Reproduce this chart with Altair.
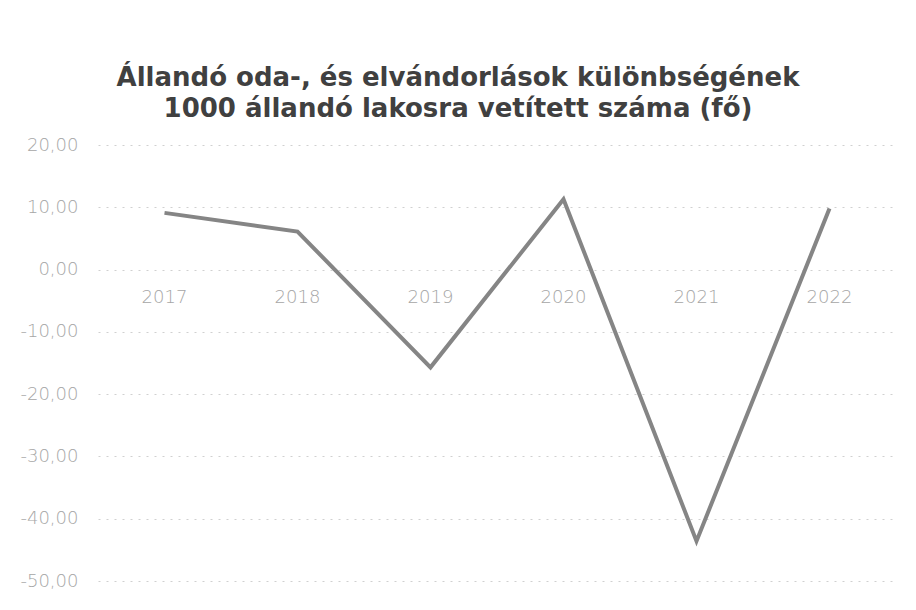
import altair as alt
import pandas as pd

years = ["2017", "2018", "2019", "2020", "2021", "2022"]
values = [9.1, 6.1, -15.7, 11.3, -43.6, 9.8]
y_ticks = [-50, -40, -30, -20, -10, 0, 10, 20]

df = pd.DataFrame({"year": years, "value": values, "zero": [0] * len(years)})

x_enc = alt.X("year:N", scale=alt.Scale(type="point", padding=0.5), axis=None, sort=years)

line = alt.Chart(df).mark_line(color="#858585", strokeWidth=4, strokeJoin="miter").encode(
    x=x_enc,
    y=alt.Y(
        "value:Q",
        scale=alt.Scale(domain=[-50, 20], nice=False, zero=False),
        axis=alt.Axis(
            values=y_ticks,
            title=None,
            domain=False,
            ticks=False,
            grid=True,
            gridColor="#d0d0d0",
            gridDash=[2, 6],
            gridWidth=1,
            labelColor="#a6a6a6",
            labelFont="DejaVu Sans",
            labelFontWeight=200,
            labelFontSize=18,
            labelPadding=20,
            labelExpr="(datum.value < 0 ? '-' : '') + replace(format(abs(datum.value), '.2f'), '.', ',')",
        ),
    ),
)

labels = alt.Chart(df).mark_text(
    color="#a6a6a6", font="DejaVu Sans", fontWeight=200, fontSize=18, baseline="middle", dy=28
).encode(
    x=x_enc,
    y=alt.Y("zero:Q"),
    text="year:N",
)

chart = (
    alt.layer(line, labels)
    .properties(
        width=798,
        height=436,
        autosize=alt.AutoSizeParams(type="none"),
        padding={"left": 90, "top": 137, "right": 12, "bottom": 21},
        title=alt.TitleParams(
            text=[
                "Állandó oda-, és elvándorlások különbségének",
                "1000 állandó lakosra vetített száma (fő)",
            ],
            font="DejaVu Sans",
            fontSize=26,
            fontWeight="bold",
            color="#404040",
            anchor="middle",
            dx=-39,
            offset=14,
            lineHeight=31,
        ),
    )
    .configure_view(stroke=None)
)

chart.save("out.html", embed_options={"renderer": "svg", "actions": False})
